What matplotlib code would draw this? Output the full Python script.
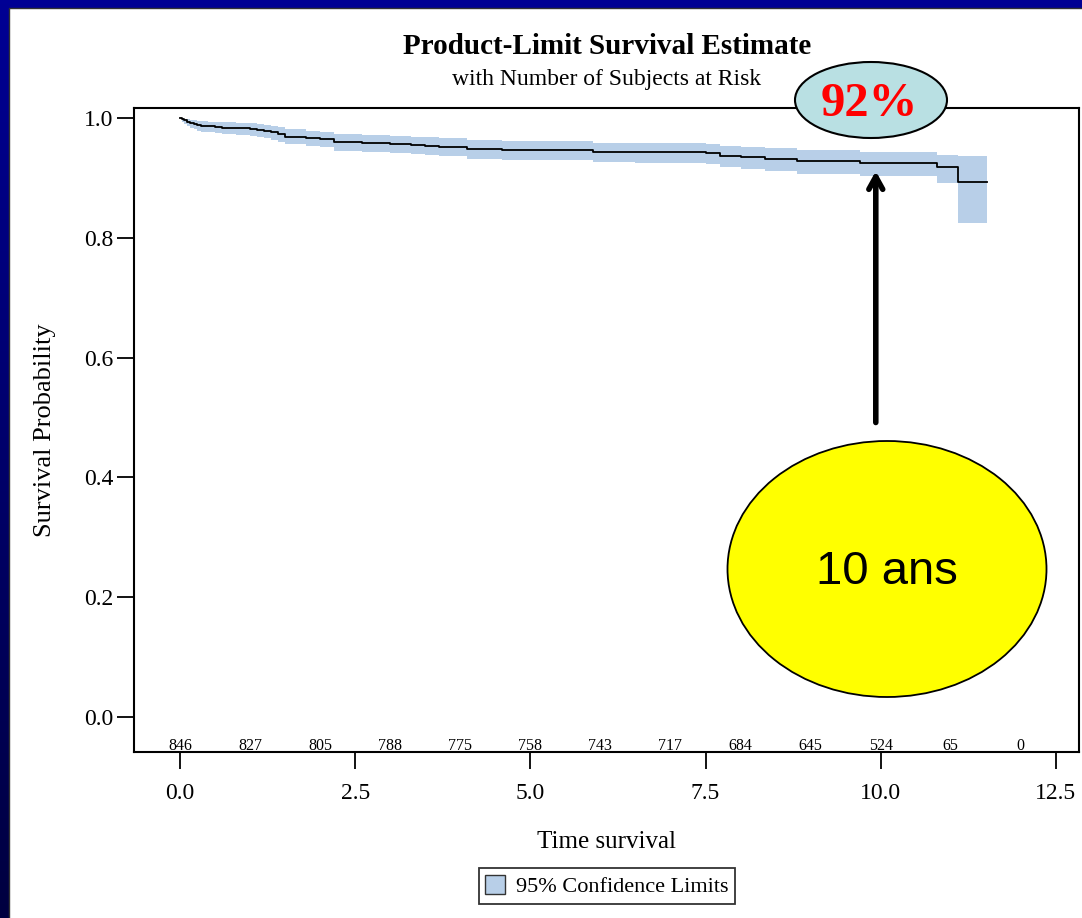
import numpy as np
import matplotlib.pyplot as plt
from matplotlib.colors import LinearSegmentedColormap
from matplotlib.patches import Ellipse, Rectangle, Patch

# Kaplan-Meier step estimate (time in years)
times = [0.0, 0.03, 0.06, 0.1, 0.15, 0.2, 0.25, 0.3, 0.4, 0.5, 0.6, 0.8, 1.0,
         1.1, 1.2, 1.3, 1.4, 1.5, 1.8, 2.0, 2.2, 2.6, 3.0, 3.3, 3.5, 3.7, 4.1,
         4.6, 5.9, 6.5, 7.5, 7.7, 8.0, 8.35, 8.8, 9.7, 10.8, 11.1, 11.52]
surv = [1.000, 0.998, 0.996, 0.994, 0.992, 0.990, 0.988, 0.987, 0.986, 0.985,
        0.984, 0.983, 0.981, 0.980, 0.978, 0.976, 0.973, 0.969, 0.967, 0.965,
        0.960, 0.959, 0.957, 0.955, 0.954, 0.952, 0.948, 0.947, 0.944, 0.943,
        0.941, 0.937, 0.935, 0.932, 0.928, 0.925, 0.919, 0.893, 0.893]
lower = [1.000, 0.994, 0.990, 0.987, 0.984, 0.981, 0.979, 0.977, 0.976, 0.975,
         0.973, 0.972, 0.970, 0.968, 0.966, 0.963, 0.960, 0.956, 0.953, 0.951,
         0.945, 0.944, 0.942, 0.940, 0.938, 0.936, 0.931, 0.930, 0.926, 0.925,
         0.923, 0.918, 0.915, 0.912, 0.907, 0.903, 0.891, 0.825, 0.825]
upper = [1.000, 1.000, 0.999, 0.998, 0.997, 0.996, 0.995, 0.995, 0.994, 0.993,
         0.993, 0.992, 0.991, 0.990, 0.989, 0.987, 0.985, 0.981, 0.979, 0.977,
         0.973, 0.972, 0.970, 0.969, 0.968, 0.966, 0.963, 0.962, 0.959, 0.958,
         0.957, 0.954, 0.952, 0.950, 0.946, 0.944, 0.938, 0.936, 0.936]

# number at risk at each whole year
risk_times = list(range(13))
at_risk = [846, 827, 805, 788, 775, 758, 743, 717, 684, 645, 524, 65, 0]

xticks = [0.0, 2.5, 5.0, 7.5, 10.0, 12.5]
yticks = [0.0, 0.2, 0.4, 0.6, 0.8, 1.0]

W, H = 1082, 918
fig = plt.figure(figsize=(W / 100, H / 100), dpi=100)

# slide frame: blue gradient behind a white page
bg = fig.add_axes([0, 0, 1, 1], zorder=-10)
grad = np.linspace(0, 1, 256).reshape(-1, 1)
bg.imshow(grad, aspect='auto', extent=[0, 1, 0, 1], origin='lower',
          cmap=LinearSegmentedColormap.from_list('frame', ['#000040', '#000094']))
bg.add_patch(Rectangle((9 / W, -0.1), 1, 1.1 - 8 / H, facecolor='white',
                       edgecolor='#333333', lw=1))
bg.set_xlim(0, 1)
bg.set_ylim(0, 1)
bg.axis('off')

serif = ['Liberation Serif', 'DejaVu Serif']

ax = fig.add_axes([134 / W, 1 - 752 / H, (1079 - 134) / W, (752 - 108) / H])
ax.fill_between(times, lower, upper, step='post', color='#b8cfe8', lw=0)
ax.step(times, surv, where='post', color='black', lw=1.3)

for t, n in zip(risk_times, at_risk):
    ax.text(t, -0.048, str(n), ha='center', va='center', fontsize=11.5,
            family=serif)

ax.set_xlim(-0.656, 12.83)
ax.set_ylim(-0.0584, 1.0167)
ax.set_xticks(xticks)
ax.set_xticklabels([f'{v:.1f}' for v in xticks], family=serif, fontsize=17)
ax.set_yticks(yticks)
ax.set_yticklabels([f'{v:.1f}' for v in yticks], family=serif, fontsize=17)
ax.tick_params(axis='both', length=12, width=1.3)
ax.tick_params(axis='y', pad=3)
ax.tick_params(axis='x', pad=10)
for s in ax.spines.values():
    s.set_linewidth(1.5)

ax.set_xlabel('Time survival', family=serif, fontsize=18, labelpad=20)
ax.set_ylabel('Survival Probability', family=serif, fontsize=19, labelpad=20)

fig.text(607 / W, 1 - 46 / H, 'Product-Limit Survival Estimate', ha='center',
         va='center', family=serif, fontsize=21, weight='bold')
fig.text(607 / W, 1 - 79 / H, 'with Number of Subjects at Risk', ha='center',
         va='center', family=serif, fontsize=17)

leg = fig.legend(handles=[Patch(facecolor='#b8cfe8', edgecolor='#333333',
                                label='95% Confidence Limits')],
                 loc='center', bbox_to_anchor=(607 / W, 1 - 886 / H),
                 frameon=True, fancybox=False, prop={'family': serif, 'size': 16},
                 handlelength=0.9, handleheight=0.9, handletextpad=0.5,
                 borderpad=0.3)
leg.get_frame().set_edgecolor('black')
leg.get_frame().set_linewidth(1.3)

# callouts
fig.add_artist(Ellipse((871 / W, 1 - 100 / H), 152 / W, 76 / H,
                       transform=fig.transFigure, facecolor='#b9e0e3',
                       edgecolor='black', lw=1.5, zorder=5))
fig.text(869 / W, 1 - 104 / H, '92%', ha='center', va='center', color='red',
         family=serif, weight='bold', fontsize=35, zorder=6)

ax.annotate('', xy=(9.93, 0.916), xytext=(9.93, 0.487),
            arrowprops=dict(arrowstyle='->,head_length=0.9,head_width=0.5',
                            color='black', lw=4))

fig.add_artist(Ellipse((887 / W, 1 - 569 / H), 319 / W, 256 / H,
                       transform=fig.transFigure, facecolor='#ffff00',
                       edgecolor='black', lw=1.3, zorder=5))
fig.text(887 / W, 1 - 572 / H, '10 ans', ha='center', va='center',
         family=['Liberation Sans', 'DejaVu Sans'], fontsize=34, zorder=6)

fig.savefig('out.png', dpi=100)
